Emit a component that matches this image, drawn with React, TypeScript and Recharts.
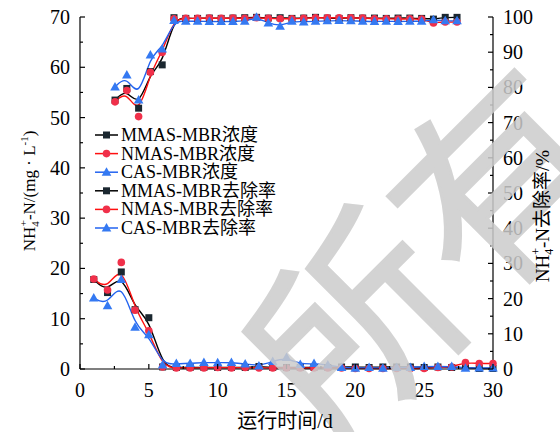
import { LineChart, Line, XAxis, YAxis, Legend } from 'recharts';

const days = [1, 2, 3, 4, 5, 6, 7, 8, 9, 10, 11, 12, 13, 14, 15, 16, 17, 18, 19, 20, 21, 22, 23, 24, 25, 26, 27, 28, 29, 30];

// effluent NH4+-N, mg/L
const mmasConc = [17.8, 15.2, 19.3, 11.8, 10.2, 0.4, 0.3, 0.3, 0.3, 0.3, 0.3, 0.3, 0.5, 0.3, 0.3, 0.3, 0.3, 0.3, 0.4, 0.4, 0.3, 0.4, 0.4, 0.4, 0.3, 0.4, 0.3, 0.3, 0.1, 0.1];
const nmasConc = [17.9, 15.7, 21.2, 11.7, 7.6, 0.4, 0.2, 0.2, 0.2, 0.3, 0.2, 0.3, 0.2, 0.2, 0.2, 0.2, 0.2, 0.2, 0.2, 0.1, 0.1, 0.1, 0.1, 0.1, 0.1, 0.3, 0.4, 1.3, 1.1, 1.1];
const casConc = [14.1, 12.6, 17.8, 8.3, 6.8, 0.8, 1.1, 1.1, 1.3, 1.25, 1.3, 1.0, 0.6, 1.5, 2.3, 0.9, 1.1, 0.8, 0.3, 0.15, 0.3, 0.15, 0.3, 0.3, 0.5, 0.5, 0.5, 0.15, 0.2, 0.2];

// removal rate, %
const mmasRem = [76.4, 79.7, 74.1, 84.5, 86.4, 99.8, 99.6, 99.6, 99.7, 99.6, 99.7, 99.8, 99.9, 99.7, 99.8, 99.6, 99.7, 99.9, 99.7, 99.6, 99.8, 99.7, 99.7, 99.6, 99.7, 99.7, 99.6, 99.4, 99.9, 99.9];
const nmasRem = [75.9, 79.1, 71.7, 84.3, 89.9, 99.5, 99.6, 99.6, 99.7, 99.6, 99.7, 99.6, 99.8, 99.6, 99.5, 99.5, 99.6, 99.8, 99.8, 99.8, 99.8, 99.7, 99.5, 99.5, 99.4, 99.5, 99.4, 98.3, 98.6, 98.6];
const casRem = [80.1, 83.5, 76.4, 89.2, 90.9, 99.0, 98.8, 98.8, 98.7, 98.7, 98.7, 98.8, 99.9, 98.3, 97.4, 98.8, 98.6, 98.8, 98.9, 99.0, 98.9, 98.8, 98.7, 98.8, 98.7, 98.8, 98.8, 99.2, 98.9, 98.9];

const xTicks = [0, 2.5, 5, 7.5, 10, 12.5, 15, 17.5, 20, 22.5, 25, 27.5, 30];
const concTicks = [0, 5, 10, 15, 20, 25, 30, 35, 40, 45, 50, 55, 60, 65, 70];
const remTicks = [0, 5, 10, 15, 20, 25, 30, 35, 40, 45, 50, 55, 60, 65, 70, 75, 80, 85, 90, 95, 100];

const legendNames = ['MMAS-MBR浓度', 'NMAS-MBR浓度', 'CAS-MBR浓度', 'MMAS-MBR去除率', 'NMAS-MBR去除率', 'CAS-MBR去除率'];

const data = days.map((d, i) => ({
  day: d,
  mmasC: mmasConc[i],
  nmasC: nmasConc[i],
  casC: casConc[i],
  mmasR: mmasRem[i],
  nmasR: nmasRem[i],
  casR: casRem[i],
}));

const SERIF = '"Liberation Serif", "Times New Roman", "Noto Sans CJK SC", serif';
const TICK_FONT = 20;
const BLACK = '#000000';
const BLACK_DOT = '#1b2730';
const RED = '#ff1010';
const RED_DOT = '#f0304a';
const BLUE = '#2263f0';
const BLUE_DOT = '#3479f2';

function Marker({ kind, cx, cy }: { kind: number; cx: number; cy: number }) {
  if (kind === 0) return <rect x={cx - 3.5} y={cy - 3.5} width={7} height={7} fill={BLACK_DOT} />;
  if (kind === 1) return <circle cx={cx} cy={cy} r={3.8} fill={RED_DOT} />;
  return <polygon points={`${cx},${cy - 5} ${cx - 4.8},${cy + 3.5} ${cx + 4.8},${cy + 3.5}`} fill={BLUE_DOT} />;
}

const dotFor = (kind: number) => (p: any) =>
  p.cx == null ? <g key={p.index} /> : <Marker key={p.index} kind={kind} cx={p.cx} cy={p.cy} />;

function LeftTick(props: any) {
  const { x, y, payload } = props;
  const v = payload.value;
  const major = v % 10 === 0;
  const ax = x + 10;
  return (
    <g>
      <line x1={ax} x2={ax + (major ? 5 : 3)} y1={y} y2={y} stroke="#000" strokeWidth={1.2} />
      {major && (
        <text x={x} y={y} dy={7} textAnchor="end" fontFamily={SERIF} fontSize={TICK_FONT} fill="#000">
          {v}
        </text>
      )}
    </g>
  );
}

function RightTick(props: any) {
  const { x, y, payload } = props;
  const v = payload.value;
  const major = v % 10 === 0;
  const ax = x - 10;
  return (
    <g>
      <line x1={ax} x2={ax - (major ? 5 : 3)} y1={y} y2={y} stroke="#000" strokeWidth={1.2} />
      {major && (
        <text x={x} y={y} dy={7} textAnchor="start" fontFamily={SERIF} fontSize={TICK_FONT} fill="#000">
          {v}
        </text>
      )}
    </g>
  );
}

function BottomTick(props: any) {
  const { x, y, payload } = props;
  const v = payload.value;
  const major = v % 5 === 0;
  const ay = y - 12;
  return (
    <g>
      <line x1={x} x2={x} y1={ay} y2={ay - (major ? 5 : 3)} stroke="#000" strokeWidth={1.2} />
      {major && (
        <text x={x} y={y} dy={16} textAnchor="middle" fontFamily={SERIF} fontSize={TICK_FONT} fill="#000">
          {v}
        </text>
      )}
    </g>
  );
}

function LegendBox() {
  const colors = [BLACK, RED, BLUE, BLACK, RED, BLUE];
  return (
    <svg width={270} height={124} style={{ display: 'block' }}>
      {legendNames.map((name, i) => {
        const cy = 12 + i * 18.6;
        return (
          <g key={name}>
            <line x1={1} x2={24} y1={cy} y2={cy} stroke={colors[i]} strokeWidth={1.5} />
            <Marker kind={i % 3} cx={12.5} cy={cy} />
            <text x={27} y={cy + 6} fontFamily={SERIF} fontSize={18} fill="#000">
              {name}
            </text>
          </g>
        );
      })}
    </svg>
  );
}

export default function App() {
  return (
    <div style={{ position: 'absolute', left: 0, top: 0, width: 560, height: 432, background: '#fff' }}>
      <LineChart width={560} height={432} data={data} margin={{ top: 17, right: 0, bottom: 0, left: 0 }}>
        <XAxis
          xAxisId="c"
          dataKey="day"
          type="number"
          domain={[0, 30]}
          ticks={xTicks}
          interval={0}
          height={63}
          tickSize={0}
          tickMargin={12}
          tickLine={false}
          axisLine={{ stroke: '#000', strokeWidth: 1.2 }}
          tick={<BottomTick />}
        />
        {/* removal series sit on their own (stretched) x scale, as in the source figure */}
        <XAxis
          xAxisId="r"
          dataKey="day"
          type="number"
          orientation="top"
          domain={[-1.97, 33.05]}
          height={0}
          tick={false}
          tickLine={false}
          axisLine={{ stroke: '#000', strokeWidth: 1.2 }}
        />
        <YAxis
          yAxisId="c"
          domain={[0, 70]}
          ticks={concTicks}
          interval={0}
          width={80}
          tickSize={0}
          tickMargin={10}
          tickLine={false}
          axisLine={{ stroke: '#000', strokeWidth: 1.2 }}
          tick={<LeftTick />}
        />
        <YAxis
          yAxisId="r"
          orientation="right"
          domain={[0, 100]}
          ticks={remTicks}
          interval={0}
          width={67}
          tickSize={0}
          tickMargin={10}
          tickLine={false}
          axisLine={{ stroke: '#000', strokeWidth: 1.2 }}
          tick={<RightTick />}
        />
        <Legend
          layout="vertical"
          align="center"
          verticalAlign="middle"
          wrapperStyle={{ left: 94, top: 123, width: 270 }}
          content={() => <LegendBox />}
        />
        <Line xAxisId="c" yAxisId="c" type="basis" dataKey="mmasC" stroke={BLACK} strokeWidth={1.4} dot={dotFor(0)} isAnimationActive={false} />
        <Line xAxisId="c" yAxisId="c" type="basis" dataKey="nmasC" stroke={RED} strokeWidth={1.4} dot={dotFor(1)} isAnimationActive={false} />
        <Line xAxisId="c" yAxisId="c" type="basis" dataKey="casC" stroke={BLUE} strokeWidth={1.4} dot={dotFor(2)} isAnimationActive={false} />
        <Line xAxisId="r" yAxisId="r" type="basis" dataKey="mmasR" stroke={BLACK} strokeWidth={1.4} dot={dotFor(0)} isAnimationActive={false} />
        <Line xAxisId="r" yAxisId="r" type="basis" dataKey="nmasR" stroke={RED} strokeWidth={1.4} dot={dotFor(1)} isAnimationActive={false} />
        <Line xAxisId="r" yAxisId="r" type="basis" dataKey="casR" stroke={BLUE} strokeWidth={1.4} dot={dotFor(2)} isAnimationActive={false} />
      </LineChart>

      <svg width={560} height={432} style={{ position: 'absolute', left: 0, top: 0, pointerEvents: 'none' }}>
        {/* watermark */}
        <text
          x={0}
          y={0}
          transform="translate(418,245) rotate(-45)"
          textAnchor="middle"
          dominantBaseline="central"
          fontFamily='"Noto Sans CJK SC", sans-serif'
          fontSize={205}
          fill="#cccccc"
          stroke="#cccccc"
          strokeWidth={3}
          opacity={0.85}
        >
          所有
        </text>
        <text transform="translate(35,191) rotate(-90)" textAnchor="middle" fontFamily={SERIF} fontSize={17} fill="#000">
          NH<tspan fontSize={11} dy={4}>4</tspan>
          <tspan fontSize={11} dx={-5} dy={-12}>+</tspan>
          <tspan dy={8}>-N/(mg · L</tspan>
          <tspan fontSize={11} dy={-7}>-1</tspan>
          <tspan dy={7}>)</tspan>
        </text>
        <text transform="translate(549,216) rotate(-90)" textAnchor="middle" fontFamily={SERIF} fontSize={19} fill="#000">
          NH<tspan fontSize={12} dy={4}>4</tspan>
          <tspan fontSize={12} dx={-6} dy={-13}>+</tspan>
          <tspan dy={9}>-N去除率/%</tspan>
        </text>
        <text x={285} y={428} textAnchor="middle" fontFamily={SERIF} fontSize={20} fill="#000">
          运行时间/d
        </text>
      </svg>
    </div>
  );
}
